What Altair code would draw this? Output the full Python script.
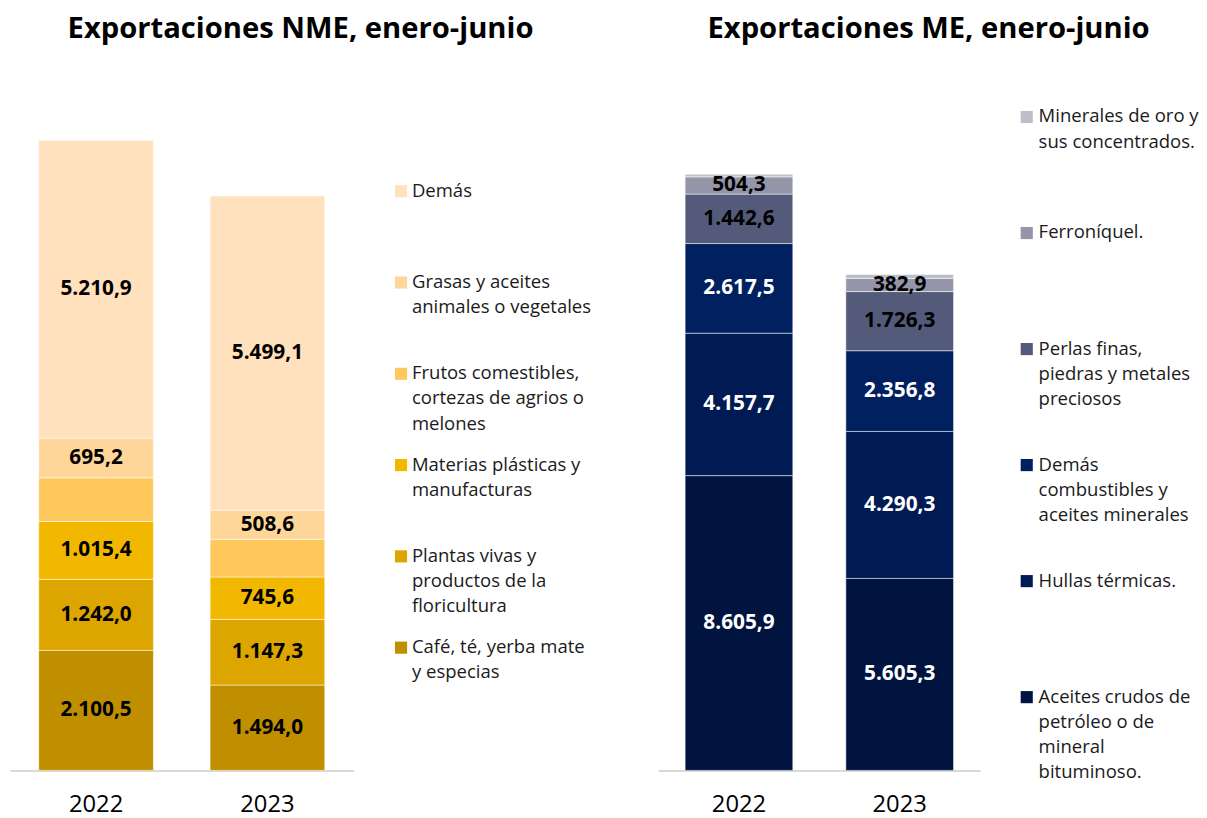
import altair as alt
import pandas as pd

anios = ["2022", "2023"]

# Exportaciones NME (orden: de abajo hacia arriba en la barra)
nme_cats = [
    "Café, té, yerba mate\ny especias",
    "Plantas vivas y\nproductos de la\nfloricultura",
    "Materias plásticas y\nmanufacturas",
    "Frutos comestibles,\ncortezas de agrios o\nmelones",
    "Grasas y aceites\nanimales o vegetales",
    "Demás",
]
nme_2022 = [2100.5, 1242.0, 1015.4, 764.0, 695.2, 5210.9]
nme_2023 = [1494.0, 1147.3, 745.6, 660.0, 508.6, 5499.1]
nme_sin_etiqueta = ["Frutos comestibles,\ncortezas de agrios o\nmelones"]

# Exportaciones ME
me_cats = [
    "Aceites crudos de\npetróleo o de\nmineral\nbituminoso.",
    "Hullas térmicas.",
    "Demás\ncombustibles y\naceites minerales",
    "Perlas finas,\npiedras y metales\npreciosos",
    "Ferroníquel.",
    "Minerales de oro y\nsus concentrados.",
]
me_2022 = [8605.9, 4157.7, 2617.5, 1442.6, 504.3, 75.0]
me_2023 = [5605.3, 4290.3, 2356.8, 1726.3, 382.9, 115.0]
me_sin_etiqueta = ["Minerales de oro y\nsus concentrados."]

nme_colors = ["#BF8F00", "#DCA500", "#F2B800", "#FFC85C", "#FFD699", "#FFE1BD"]
me_colors = ["#011440", "#001B54", "#002060", "#535A7A", "#9495A8", "#BEBECA"]

FONT = "Open Sans"


def fmt(v):
    s = f"{v:,.1f}"
    return s.replace(",", "X").replace(".", ",").replace("X", ".")


def build_df(cats, v22, v23, sin_etiqueta):
    rows = []
    for i, c in enumerate(cats):
        for a, vals in zip(anios, [v22, v23]):
            rows.append({
                "anio": a,
                "cat": c,
                "orden": i,
                "valor": vals[i],
                "etiqueta": "" if c in sin_etiqueta else fmt(vals[i]),
            })
    return pd.DataFrame(rows)


def bars(df, cats, colors, width, height, ymax, pin, pout, n_dark):
    base = alt.Chart(df).encode(
        x=alt.X(
            "anio:N",
            title=None,
            scale=alt.Scale(paddingInner=pin, paddingOuter=pout),
            axis=alt.Axis(
                labelAngle=0, labelFontSize=24, labelFont=FONT, labelColor="#000000",
                domainColor="#D9D9D9", domainWidth=2, ticks=False, labelPadding=23,
            ),
        )
    )
    rect = base.mark_bar(stroke="white", strokeWidth=1, strokeOpacity=0.5).encode(
        y=alt.Y("valor:Q", stack="zero", scale=alt.Scale(domain=[0, ymax], nice=False), axis=None),
        color=alt.Color("cat:N", scale=alt.Scale(domain=cats, range=colors), legend=None),
        order=alt.Order("orden:Q", sort="ascending"),
    )
    text = (
        base.transform_stack(
            stack="valor", groupby=["anio"],
            sort=[alt.SortField(field="orden", order="ascending")],
            as_=["y0", "y1"],
        )
        .transform_calculate(mid="(datum.y0 + datum.y1) / 2")
        .mark_text(font=FONT, fontWeight="bold", fontSize=21)
        .encode(
            y=alt.Y("mid:Q", scale=alt.Scale(domain=[0, ymax], nice=False), axis=None),
            text="etiqueta:N",
            color=alt.condition(f"datum.orden < {n_dark}", alt.value("white"), alt.value("black")),
        )
    )
    return alt.layer(rect, text).properties(width=width, height=height)


def legend(cats, colors, width, height, yrange, dx):
    ldf = pd.DataFrame({"cat": cats, "orden": list(range(len(cats)))})
    base = alt.Chart(ldf).encode(
        y=alt.Y("orden:Q", scale=alt.Scale(domain=[len(cats) - 1, 0], range=yrange, nice=False, zero=False), axis=None)
    )
    sq = base.mark_square(size=150, opacity=1).encode(
        x=alt.value(6),
        color=alt.Color("cat:N", scale=alt.Scale(domain=cats, range=colors), legend=None),
    )
    tx = base.mark_text(
        align="left", baseline="line-top", lineBreak="\n", lineHeight=25.5,
        dx=dx, dy=-12.5, fontSize=18.7, font=FONT, color="#1a1a1a",
    ).encode(x=alt.value(6), text="cat:N")
    return alt.layer(sq, tx).properties(width=width, height=height)


H = 711
left_bars = bars(build_df(nme_cats, nme_2022, nme_2023, nme_sin_etiqueta), nme_cats, nme_colors,
                 347, H, H / 0.0577, 0.331, 0.168, 0)
left_leg = legend(nme_cats, nme_colors, 194, H, [126, 587], 11)
right_bars = bars(build_df(me_cats, me_2022, me_2023, me_sin_etiqueta), me_cats, me_colors,
                  325, H, H / 0.0346, 0.33, 0.166, 3)
right_leg = legend(me_cats, me_colors, 175, H, [51, 637], 12)

title_style = dict(font=FONT, fontSize=29.5, fontWeight="bold", anchor="middle", color="#000000", offset=22)

left = alt.hconcat(left_bars, left_leg, spacing=41).properties(
    title=alt.TitleParams("Exportaciones NME, enero-junio", **title_style)
)
right = alt.hconcat(right_bars, right_leg, spacing=40).properties(
    title=alt.TitleParams("Exportaciones ME, enero-junio", **title_style)
)

chart = (
    alt.hconcat(left, right, spacing=68)
    .resolve_scale(color="independent")
    .properties(padding={"left": 2, "top": 2, "right": 0, "bottom": 0})
    .configure_view(stroke=None)
)

chart.save("out.html", embed_options={"renderer": "svg", "actions": False})
